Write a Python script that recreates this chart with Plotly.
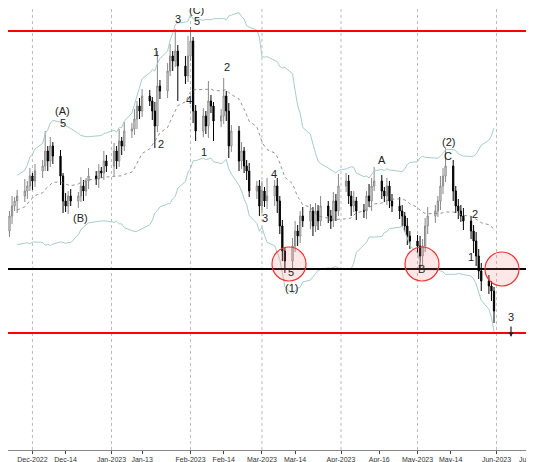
import pandas as pd
import plotly.graph_objects as go

# closes, in pixel rows (converted to price below)
close_px = [230, 215, 205, 200, 195, 190, 185, 175, 180, 170,
            165, 150, 160, 145, 155, 175, 200, 205, 195, 200,
            195, 185, 190, 180, 175, 178, 170, 172, 160, 165,
            150, 160, 140, 145, 130, 128, 118, 105, 110, 95,
            100, 110, 125, 85, 90, 70, 55, 60, 50, 65,
            75, 55, 40, 110, 130, 115, 125, 100, 105, 120,
            115, 95, 110, 145, 130, 160, 150, 165, 170, 190,
            185, 205, 190, 200, 195, 185, 200, 225, 250, 260,
            245, 230, 235, 215, 220, 210, 225, 210, 220, 205,
            215, 220, 200, 210, 185, 180, 195, 205, 200, 210,
            210, 195, 200, 185, 180, 190, 195, 185, 200, 205,
            210, 215, 225, 235, 240, 245, 255, 245, 225, 215,
            210, 200, 185, 175, 165, 190, 205, 210, 215, 220,
            230, 240, 255, 270, 280, 285, 290, 310]
wick_up = [8, 5, 10, 4, 6, 12, 5, 8, 3, 7, 6, 20, 5, 9, 4, 6, 3, 8, 5, 7,
           4, 9, 6, 3, 8, 5, 7, 4, 10, 6, 8, 5, 12, 4, 9, 6, 10, 5, 8, 7,
           6, 4, 9, 35, 6, 8, 12, 5, 22, 6, 10, 20, 14, 4, 6, 8, 5, 20, 6, 4,
           7, 18, 5, 8, 6, 5, 9, 4, 6, 8, 5, 6, 10, 4, 18, 6, 8, 5, 6, 4,
           8, 10, 6, 5, 9, 7, 4, 8, 6, 10, 5, 6, 9, 7, 12, 8, 6, 5, 10, 4,
           7, 5, 12, 8, 14, 6, 4, 8, 5, 7, 9, 6, 4, 8, 5, 6, 10, 7, 8, 9,
           6, 5, 10, 8, 18, 6, 5, 7, 6, 8, 5, 6, 9, 7, 8, 6, 5, 4]
wick_dn = [10, 6, 8, 5, 12, 6, 8, 5, 9, 6, 7, 5, 10, 6, 8, 9, 12, 6, 8, 5,
           7, 6, 10, 5, 8, 6, 9, 5, 7, 6, 10, 8, 6, 9, 5, 7, 6, 10, 8, 6,
           5, 9, 22, 6, 8, 7, 5, 10, 6, 35, 8, 6, 5, 12, 10, 6, 8, 12, 7, 20,
           6, 8, 10, 12, 6, 10, 8, 7, 9, 6, 8, 10, 7, 6, 8, 10, 12, 8, 10, 12,
           8, 6, 10, 7, 6, 8, 10, 6, 9, 5, 7, 8, 6, 10, 5, 6, 8, 10, 6, 9,
           7, 8, 6, 10, 5, 8, 6, 9, 7, 6, 8, 10, 6, 9, 8, 7, 12, 10, 6, 8,
           7, 6, 9, 8, 6, 10, 7, 8, 6, 9, 8, 12, 10, 8, 10, 8, 10, 12]

dates = pd.bdate_range("2022-11-21", periods=len(close_px))

def price(y):
    return 1 + (268 - y) / 10000

def xdate(x):
    return pd.Timestamp("2022-11-18 16:00") + pd.Timedelta(days=x / 2.55)

close = [price(v) for v in close_px]
open_ = [price(close_px[0] + 8)] + close[:-1]
high = [max(o, c) + w / 10000 for o, c, w in zip(open_, close, wick_up)]
low = [min(o, c) - w / 10000 for o, c, w in zip(open_, close, wick_dn)]

s = pd.Series(close, index=dates)
mid = s.rolling(20, min_periods=5).mean()
sd = s.rolling(20, min_periods=5).std()
upper = mid + 2.5 * sd
lower = mid - 2.5 * sd

tick_dates = ["2022-12-01", "2022-12-14", "2023-01-01", "2023-01-13", "2023-02-01", "2023-02-14",
              "2023-03-01", "2023-03-14", "2023-04-01", "2023-04-16", "2023-05-01", "2023-05-14",
              "2023-06-01", "2023-06-14"]
tick_text = ["Dec-2022", "Dec-14", "Jan-2023", "Jan-13", "Feb-2023", "Feb-14", "Mar-2023", "Mar-14",
             "Apr-2023", "Apr-16", "May-2023", "May-14", "Jun-2023", "Jun-14"]
month_lines = ["2022-12-01", "2023-01-01", "2023-02-01", "2023-03-01", "2023-04-01", "2023-05-01", "2023-06-01"]

level_red = [price(30), price(332)]
level_black = price(268)

# wave labels: (pixel x, pixel y, text)
labels = [(3, 263, "4"), (61, 110, "(A)"), (62, 122, "5"), (79, 217, "(B)"),
          (155, 51, "1"), (160, 143, "2"), (177, 18, "3"), (195, 9, "(C)"), (196, 20, "5"),
          (188, 99, "4"), (203, 151, "1"), (226, 66, "2"), (264, 217, "3"), (273, 173, "4"),
          (290, 271, "5"), (290, 287, "(1)"), (381, 159, "A"), (420, 268, "B"),
          (447, 141, "(2)"), (447, 155, "C"), (474, 213, "2"), (470, 256, "1"),
          (510, 316, "3"), (532, 413, "(3)")]
circles = [(288, 263), (421, 263), (501, 268)]

fig = go.Figure()
fig.add_trace(go.Scatter(x=dates, y=upper, mode="lines", line=dict(color="#a7cccc", width=1), hoverinfo="skip"))
fig.add_trace(go.Scatter(x=dates, y=lower, mode="lines", line=dict(color="#a7cccc", width=1), hoverinfo="skip"))
fig.add_trace(go.Scatter(x=dates, y=mid, mode="lines", line=dict(color="#777777", width=0.8, dash="dot"), hoverinfo="skip"))
fig.add_trace(go.Candlestick(
    x=dates, open=open_, high=high, low=low, close=close,
    increasing=dict(fillcolor="white", line=dict(color="#888888", width=1)),
    decreasing=dict(fillcolor="black", line=dict(color="black", width=1)),
    whiskerwidth=0,
))

for m in month_lines:
    fig.add_shape(type="line", x0=m, x1=m, y0=0, y1=1, yref="paper",
                  line=dict(color="#aaaaaa", width=0.8, dash="3px,3px"), layer="below")
for lv in level_red:
    fig.add_hline(y=lv, line=dict(color="#ff0000", width=2))
fig.add_hline(y=level_black, line=dict(color="black", width=2))

for cx, cy in circles:
    fig.add_shape(type="circle", x0=xdate(cx - 17), x1=xdate(cx + 17), y0=price(cy + 17), y1=price(cy - 17),
                  line=dict(color="#ee3333", width=1.2), fillcolor="rgba(255,120,120,0.18)")

for lx, ly, t in labels:
    fig.add_annotation(x=xdate(lx), y=price(ly), text=t, showarrow=False,
                       font=dict(family="Liberation Sans, Arial", size=11, color="#222222"))
fig.add_annotation(x=xdate(510), y=price(336), ax=0, ay=-12, text="", showarrow=True,
                   arrowhead=2, arrowsize=0.8, arrowwidth=1.2, arrowcolor="#222222")

fig.update_layout(
    width=534, height=462, margin=dict(l=0, r=0, t=0, b=20, autoexpand=False),
    plot_bgcolor="white", paper_bgcolor="white", showlegend=False,
    xaxis=dict(range=[xdate(7), xdate(541)], rangeslider=dict(visible=False), showgrid=False,
               tickvals=tick_dates, ticktext=tick_text, ticks="outside", ticklen=3,
               tickfont=dict(size=7, family="Liberation Sans, Arial", color="#333333"),
               showline=True, linecolor="#888888"),
    yaxis=dict(range=[price(449), price(7)], showgrid=False, showticklabels=False, zeroline=False),
)
fig.write_html("out.html")
